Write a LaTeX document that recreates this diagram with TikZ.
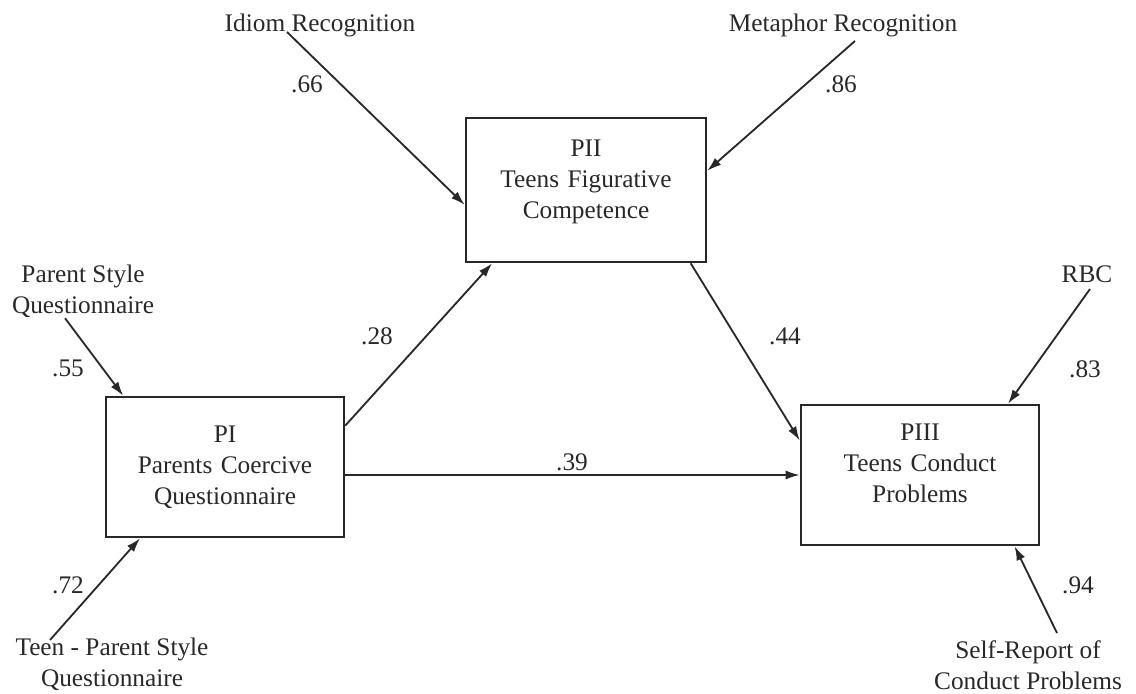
\documentclass[tikz,border=0pt]{standalone}
\usepackage{fontspec}
\setmainfont{Liberation Serif}
\usetikzlibrary{calc,arrows.meta}
\definecolor{ink}{RGB}{40,40,40}

\begin{document}
\begin{tikzpicture}[x=0.025cm, y=-0.025cm, ink,
	    every node/.style={font=\fontsize{18}{22}\selectfont, text=ink},
	    block/.style={rectangle, draw=ink, line width=1.8pt, text width=5.6cm, text centered, minimum width=5.95cm, minimum height=3.5cm, inner sep=0pt},
	    src/.style={align=center, inner sep=0pt},
	    coef/.style={anchor=base, inner sep=0pt},
	    line/.style={draw=ink, line width=1.3pt, -{Latex[length=10pt,width=6.5pt]}}]
	    \useasboundingbox (0,0) rectangle (1136,694);
	    
	    % latent boxes
	    \node [block] (p1) at (225,467) {PI\\Parents Coercive\\Questionnaire};
	    \node [block, minimum width=6cm, minimum height=3.6cm, text depth=2.08cm] (p2) at (586,190) {PII\\Teens Figurative\\Competence};
	    \node [block, text depth=2.12cm] (p3) at (920,475) {PIII\\Teens Conduct\\Problems};
	    
	    % indicators
	    \node [src, anchor=base] (idiom) at (320,32) {Idiom Recognition};
	    \node [src, anchor=base] (meta) at (843,32) {Metaphor Recognition};
	    \node [src, anchor=north] (pstyle) at (83,265) {Parent Style\\Questionnaire};
	    \node [src, anchor=north] (teen) at (112,638) {Teen - Parent Style\\Questionnaire};
	    \node [src, anchor=base] (rbc) at (1087,283) {RBC};
	    \node [src, anchor=north] (self) at (1028,640) {Self-Report of\\Conduct Problems};
	    
	    \path [line] ($(idiom.base)+(-33,0)$) -- (p2.187);
	    \path [line] ($(meta.base)+(12,9)$) -- (p2.9);
	    \path [line] ($(pstyle.south)+(-18,0)$) -- (p1.145);
	    \path [line] ($(teen.north)+(-62,2)$) -- (p1.220);
	    \path [line] ($(rbc.base)+(3,6)$) -- (p3.39);
	    \path [line] ($(self.north)+(29,-7)$) -- (p3.-37);
	    
	    \path [line] (p1.19) -- (p2.218);
	    \path [line] (p2.-35.5) -- (p3.164);
	    \path [line] (p1.east |- p3.west) -- (p3.west);
	    
	    % loadings and paths
	    \node [coef] (c66) at (307,93) {.66};
	    \node [coef] (c86) at (841,93) {.86};
	    \node [coef] (c55) at (68,376) {.55};
	    \node [coef] (c72) at (68,593) {.72};
	    \node [coef] (c28) at (377,345) {.28};
	    \node [coef] (c44) at (785,345) {.44};
	    \node [coef] (c39) at (572,470) {.39};
	    \node [coef] (c83) at (1085,377) {.83};
	    \node [coef] (c94) at (1078,593) {.94};
	\end{tikzpicture}
\end{document}
